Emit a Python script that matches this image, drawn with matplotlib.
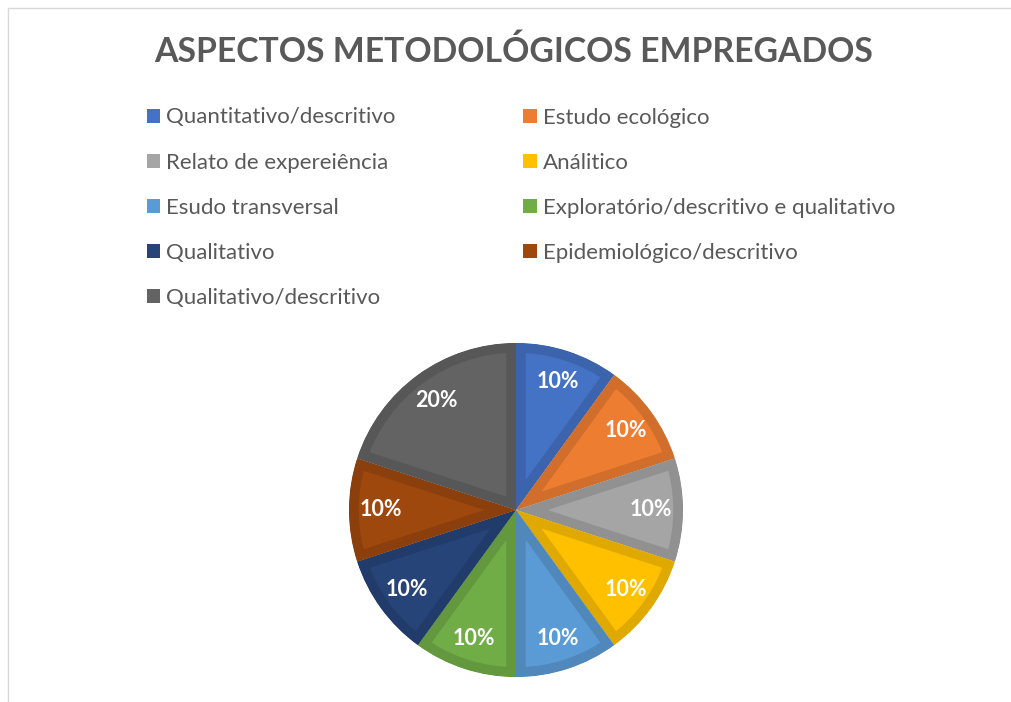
import matplotlib.pyplot as plt
import matplotlib.colors as mcolors
from matplotlib.patches import Rectangle

# dados do grafico
categorias = ['Quantitativo/descritivo', 'Estudo ecológico', 'Relato de expereiência',
              'Análitico', 'Esudo transversal', 'Exploratório/descritivo e qualitativo',
              'Qualitativo', 'Epidemiológico/descritivo', 'Qualitativo/descritivo']
valores = [1, 1, 1, 1, 1, 1, 1, 1, 2]
cores = ['#4472C4', '#ED7D31', '#A5A5A5', '#FFC000', '#5B9BD5',
         '#70AD47', '#264478', '#9E480E', '#636363']
titulo = 'ASPECTOS METODOLÓGICOS EMPREGADOS'

plt.rcParams['font.family'] = ['Lato', 'DejaVu Sans']


def escurecer(c, f=0.88):
    r, g, b = mcolors.to_rgb(c)
    return (r * f, g * f, b * f)


W, H = 1011, 702
fig = plt.figure(figsize=(W / 100, H / 100), dpi=100)

# moldura cinza clara do grafico
fig.patches.append(Rectangle((8 / W, -0.1), 1.2, (H - 8) / H + 0.1,
                             transform=fig.transFigure, fill=False,
                             edgecolor='#D9D9D9', lw=1))

fig.text(514 / W, 1 - 52 / H, titulo, ha='center', va='center',
         fontsize=24.3, fontweight='bold', color='#595959')

# pizza: centro (516, 510), raio 167 px
cx, cy, r = 516, 510, 167
ax = fig.add_axes([(cx - r) / W, (H - cy - r) / H, 2 * r / W, 2 * r / H])
wedges, textos, pcts = ax.pie(valores, colors=cores, startangle=90, counterclock=False,
                              autopct='%1.0f%%', pctdistance=0.81,
                              textprops=dict(color='white', fontsize=15.5, fontweight='bold'))
for w, c in zip(wedges, cores):
    # borda escura por dentro da fatia
    w.set_edgecolor(escurecer(c))
    w.set_linewidth(14)
    w.set_clip_on(True)
    w.set_clip_path(w)
ax.set_xlim(-1, 1)
ax.set_ylim(-1, 1)

# legenda em duas colunas, ordem por linha
ordem = [0, 2, 4, 6, 8, 1, 3, 5, 7]
handles = [Rectangle((0, 0), 1, 1, facecolor=cores[i], edgecolor='none') for i in ordem]
labels = [categorias[i] for i in ordem]
fig.legend(handles, labels, ncol=2, loc='upper left',
           bbox_to_anchor=(147 / W, 1 - 107.5 / H), frameon=False,
           fontsize=16, labelcolor='#595959', handlelength=0.59, handleheight=0.59,
           handletextpad=0.27, labelspacing=1.13, columnspacing=5.76,
           borderaxespad=0, borderpad=0)

plt.savefig('out.png', dpi=100)
